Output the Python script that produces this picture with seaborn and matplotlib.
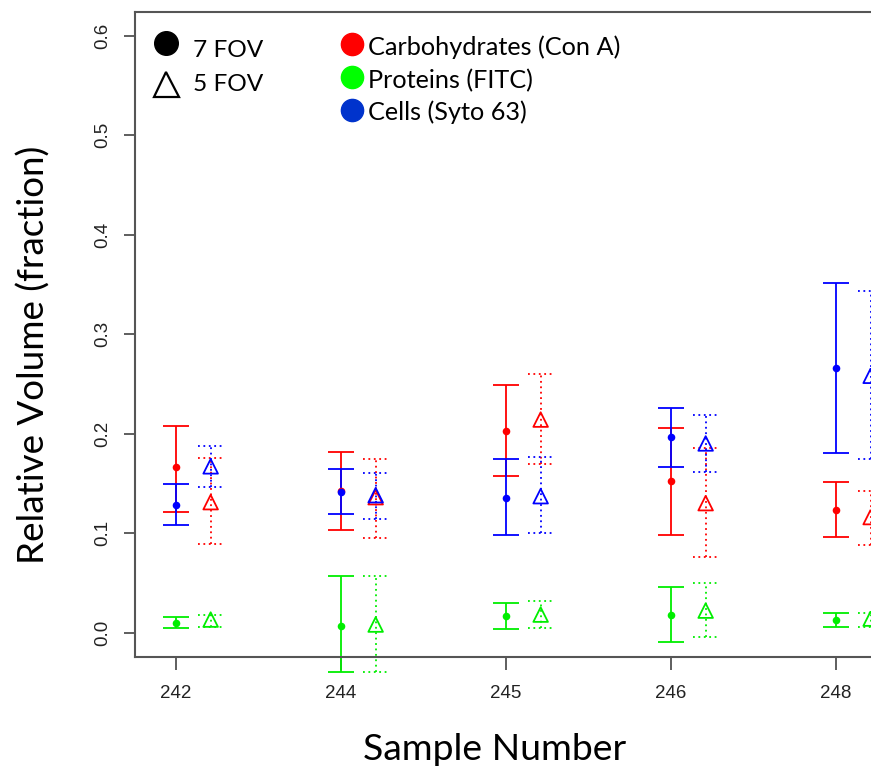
import numpy as np
import pandas as pd
import matplotlib
matplotlib.use("Agg")
import matplotlib.pyplot as plt
import seaborn as sns
from matplotlib.lines import Line2D

# ---------------- data ----------------
samples = ["242", "244", "245", "246", "248"]
components = ["Carbohydrates (Con A)", "Proteins (FITC)", "Cells (Syto 63)"]

# 7 FOV
carb7_mean = [0.166, 0.142, 0.203, 0.152, 0.123]
carb7_lo = [0.121, 0.103, 0.157, 0.098, 0.096]
carb7_hi = [0.208, 0.181, 0.249, 0.206, 0.151]
prot7_mean = [0.010, 0.007, 0.017, 0.018, 0.013]
prot7_lo = [0.005, -0.040, 0.004, -0.010, 0.006]
prot7_hi = [0.016, 0.057, 0.030, 0.046, 0.020]
cell7_mean = [0.128, 0.141, 0.135, 0.196, 0.266]
cell7_lo = [0.108, 0.119, 0.098, 0.166, 0.180]
cell7_hi = [0.149, 0.164, 0.174, 0.226, 0.351]

# 5 FOV
carb5_mean = [0.131, 0.136, 0.214, 0.130, 0.116]
carb5_lo = [0.089, 0.095, 0.169, 0.076, 0.088]
carb5_hi = [0.175, 0.174, 0.260, 0.185, 0.142]
prot5_mean = [0.013, 0.008, 0.018, 0.022, 0.014]
prot5_lo = [0.006, -0.040, 0.005, -0.005, 0.006]
prot5_hi = [0.018, 0.057, 0.032, 0.050, 0.020]
cell5_mean = [0.167, 0.138, 0.137, 0.190, 0.258]
cell5_lo = [0.146, 0.114, 0.100, 0.161, 0.174]
cell5_hi = [0.187, 0.160, 0.176, 0.219, 0.343]

rows = []
for fov, series in (("7 FOV", [(carb7_mean, carb7_lo, carb7_hi),
                               (prot7_mean, prot7_lo, prot7_hi),
                               (cell7_mean, cell7_lo, cell7_hi)]),
                    ("5 FOV", [(carb5_mean, carb5_lo, carb5_hi),
                               (prot5_mean, prot5_lo, prot5_hi),
                               (cell5_mean, cell5_lo, cell5_hi)])):
    for comp, (m, lo, hi) in zip(components, series):
        for i, s in enumerate(samples):
            rows.append(dict(fov=fov, component=comp, sample=s, idx=i,
                             mean=m[i], lo=lo[i], hi=hi[i]))
df = pd.DataFrame(rows)

# ---------------- style ----------------
colors = {components[0]: "#ff0000", components[1]: "#00ee00", components[2]: "#0000ff"}
legend_colors = ["#ff0000", "#00ff00", "#0033cc"]
offset5 = 0.21
cap_hw = 0.079
lw = 1.3

sns.set_theme(style="white")
plt.rcParams["font.family"] = ["Liberation Sans", "DejaVu Sans"]

W, H = 871, 766
fig = plt.figure(figsize=(W / 100, H / 100), dpi=100)

def fx(x):
    return x / W

def fy(y):
    return 1 - y / H

left_px, right_px, top_px, bot_px = 135, 935, 12, 657
ax = fig.add_axes([fx(left_px), fy(bot_px), (right_px - left_px) / W, (bot_px - top_px) / H])
unit = 165.0
x0_px = 176.0
ax.set_xlim((left_px - x0_px) / unit, (right_px - x0_px) / unit)
y_zero_px, y_unit = 632.5, 995.0
ax.set_ylim((y_zero_px - bot_px) / y_unit, (y_zero_px - top_px) / y_unit)

for comp in components:
    c = colors[comp]
    for fov, ls, mk in (("7 FOV", "-", "o"), ("5 FOV", (0, (1, 2)), "^")):
        d = df[(df.fov == fov) & (df.component == comp)]
        xs = d.idx.values + (offset5 if fov == "5 FOV" else 0.0)
        ax.vlines(xs, d.lo.values, d.hi.values, colors=c, linewidth=lw,
                  linestyles=ls, clip_on=False, zorder=2)
        ax.hlines(np.concatenate([d.lo.values, d.hi.values]),
                  np.concatenate([xs, xs]) - cap_hw, np.concatenate([xs, xs]) + cap_hw,
                  colors=c, linewidth=lw, linestyles=ls, clip_on=False, zorder=2)
        dd = d.assign(xpos=xs)
        if fov == "7 FOV":
            sns.scatterplot(data=dd, x="xpos", y="mean", color=c, marker="o", s=30,
                            linewidth=0, legend=False, ax=ax, zorder=3)
        else:
            sns.scatterplot(data=dd, x="xpos", y="mean", marker="^", s=110,
                            facecolor="none", edgecolor=c, linewidth=lw,
                            legend=False, ax=ax, zorder=3)

ax.set_xlabel("")
ax.set_ylabel("")
ax.set_xticks(range(len(samples)))
ax.set_xticklabels(samples)
ax.set_yticks([0.0, 0.1, 0.2, 0.3, 0.4, 0.5, 0.6])
ax.set_yticklabels(["0.0", "0.1", "0.2", "0.3", "0.4", "0.5", "0.6"])
ax.tick_params(axis="x", length=9, width=1.1, color="#333333", pad=11,
               labelsize=13.5, labelcolor="#222222", bottom=True)
ax.tick_params(axis="y", length=8, width=1.1, color="#333333", pad=9,
               labelsize=13.5, labelcolor="#222222", labelrotation=90, left=True)
for t in ax.get_yticklabels():
    t.set_va("center")
for sp in ax.spines.values():
    sp.set_color("#555555")
    sp.set_linewidth(1.5)

# ---------------- labels & legend ----------------
lab_font = ["Lato", "DejaVu Sans"]
xlab = fig.text(fx(495), fy(760), "Sample Number", ha="center", va="baseline",
                fontsize=27, family=lab_font, color="black")
ylab = fig.text(fx(45), fy(355), "Relative Volume (fraction)", ha="center", va="baseline",
                rotation=90, rotation_mode="anchor", fontsize=27, family=lab_font, color="black")

leg_items = []
leg_items.append(fig.text(fx(193), fy(57), "7 FOV", ha="left", va="baseline",
                          fontsize=19, family=lab_font, color="black"))
leg_items.append(fig.text(fx(193), fy(91), "5 FOV", ha="left", va="baseline",
                          fontsize=19, family=lab_font, color="black"))
comp_baselines = [55, 88, 120]
comp_texts = []
for comp, yb in zip(components, comp_baselines):
    comp_texts.append(fig.text(fx(368), fy(yb), comp, ha="left", va="baseline",
                               fontsize=19, family=lab_font, color="black"))

fig.add_artist(Line2D([fx(166)], [fy(43)], marker="o", markersize=17, color="black",
                      linestyle="none", transform=fig.transFigure))
fig.add_artist(Line2D([fx(166)], [fy(84)], marker="^", markersize=18, markerfacecolor="none",
                      markeredgecolor="black", markeredgewidth=1.6, linestyle="none",
                      transform=fig.transFigure))
for col, yc in zip(legend_colors, [44, 77, 110]):
    fig.add_artist(Line2D([fx(352)], [fy(yc)], marker="o", markersize=16, color=col,
                          linestyle="none", transform=fig.transFigure))

# fit text sizes to measured widths
fig.canvas.draw()
r = fig.canvas.get_renderer()

def fit(t, target, vertical=False):
    bb = t.get_window_extent(r)
    cur = bb.height if vertical else bb.width
    t.set_fontsize(t.get_fontsize() * target / cur)

fit(xlab, 263)
fit(ylab, 418, vertical=True)
fit(leg_items[0], 70)
fit(leg_items[1], 70)
fit(comp_texts[0], 252)
for t in comp_texts[1:]:
    t.set_fontsize(comp_texts[0].get_fontsize())

fig.savefig("out.png", dpi=100)
